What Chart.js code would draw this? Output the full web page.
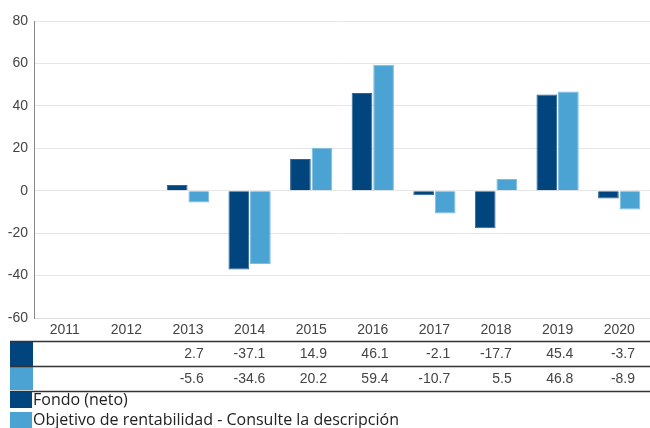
<!DOCTYPE html>
<html><head><meta charset="utf-8">
<script src="https://cdn.jsdelivr.net/npm/chart.js@4"></script>
<style>html,body{margin:0;padding:0;background:#fff}#wrap{width:650px;height:428px;position:relative}</style>
</head><body><div id="wrap"><canvas id="c" width="650" height="428"></canvas></div>
<script>
const categories = ['2011','2012','2013','2014','2015','2016','2017','2018','2019','2020'];
const fondoValues = [null,null,2.7,-37.1,14.9,46.1,-2.1,-17.7,45.4,-3.7];
const objetivoValues = [null,null,-5.6,-34.6,20.2,59.4,-10.7,5.5,46.8,-8.9];
const seriesNames = ['Fondo (neto)','Objetivo de rentabilidad - Consulte la descripción'];
const seriesColors = ['#00457E','#4BA3D3'];
const yTicks = [-60,-40,-20,0,20,40,60,80];

const tableFont = '14px "Liberation Sans", Arial, sans-serif';
const tablePlugin = {
  id:'tablePlugin',
  afterDraw(chart){
    const ctx = chart.ctx, x = chart.scales.x;
    const left = 10, right = 650;
    const rowTops = [341, 366, 391];
    ctx.save();
    // swatches
    ctx.fillStyle = seriesColors[0]; ctx.fillRect(left, 342, 23, 24);
    ctx.fillStyle = seriesColors[1]; ctx.fillRect(left, 367, 23, 23);
    // lines
    ctx.strokeStyle = '#333'; ctx.lineWidth = 1.3;
    rowTops.forEach(y=>{ctx.beginPath();ctx.moveTo(left,y+0.5);ctx.lineTo(right,y+0.5);ctx.stroke();});
    // values
    ctx.font = tableFont; ctx.fillStyle = '#444'; ctx.textAlign='right'; ctx.textBaseline='middle';
    const catW = (x.right - x.left)/categories.length;
    [fondoValues, objetivoValues].forEach((arr,ri)=>{
      arr.forEach((v,i)=>{
        if(v===null) return;
        const px = x.getPixelForValue(i) + catW/2 - 15;
        ctx.fillText(v.toFixed(1), px, ri===0?354:379);
      });
    });
    // legend
    ctx.font = '16px "Open Sans", "Noto Sans", sans-serif'; ctx.textAlign='left'; ctx.fillStyle='#222';
    seriesNames.forEach((n,i)=>{
      const y = 392 + i*20;
      ctx.fillStyle = seriesColors[i]; ctx.fillRect(left, y, 22, 16);
      ctx.fillStyle = '#222'; ctx.fillText(n, 33, y+8);
    });
    ctx.restore();
  }
};

new Chart(document.getElementById('c'), {
  type:'bar',
  data:{labels:categories, datasets:[
    {label:seriesNames[0], data:fondoValues, backgroundColor:seriesColors[0], borderColor:'#2F6494', borderWidth:1, categoryPercentage:0.7, barPercentage:0.96},
    {label:seriesNames[1], data:objetivoValues, backgroundColor:seriesColors[1], borderColor:'#7DBDE0', borderWidth:1, categoryPercentage:0.7, barPercentage:0.96}
  ]},
  options:{
    responsive:false, animation:false,
    layout:{padding:{top:21,right:0,left:0,bottom:0}},
    plugins:{legend:{display:false}, tooltip:{enabled:false}},
    scales:{
      x:{
        grid:{display:false, drawTicks:false},
        border:{display:true, color:'#dddddd'},
        ticks:{color:'#444', font:{family:'"Liberation Sans", Arial, sans-serif', size:14}, padding:4, maxRotation:0},
        afterFit(s){s.height = 110;}
      },
      y:{
        min:-60, max:80,
        afterBuildTicks(s){s.ticks = yTicks.map(v=>({value:v}));},
        grid:{color:'#e6e6e6', drawTicks:false},
        border:{display:true, color:'#888'},
        ticks:{color:'#444', font:{family:'"Liberation Sans", Arial, sans-serif', size:14}, padding:6},
        afterFit(s){s.width = 34;}
      }
    }
  },
  plugins:[tablePlugin]
});
</script></body></html>
